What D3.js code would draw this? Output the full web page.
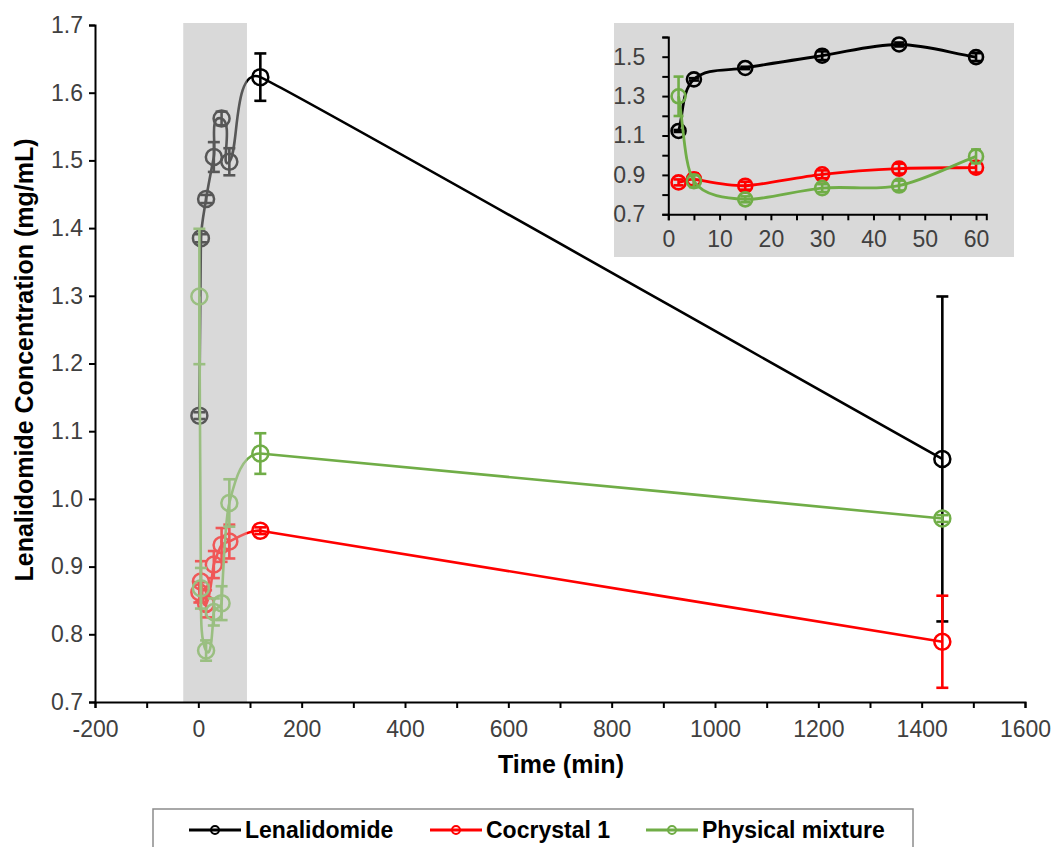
<!DOCTYPE html>
<html><head><meta charset="utf-8">
<script src="https://cdn.jsdelivr.net/npm/d3@7"></script>
<style>body{margin:0;background:#fff}svg{display:block}</style>
</head><body><svg id="c" width="1054" height="847"></svg>
<script>
// ---------- data ----------
const times = [2, 5, 15, 30, 45, 60, 120, 1440];
const seriesNames = ["Lenalidomide", "Cocrystal 1", "Physical mixture"];
const lenaValues = [1.123, 1.385, 1.443, 1.505, 1.562, 1.498, 1.623, 1.059];
const lenaErrors = [0.005, 0.006, 0.006, 0.022, 0.01, 0.02, 0.035, 0.24];
const cocrystalValues = [0.862, 0.878, 0.845, 0.903, 0.932, 0.937, 0.953, 0.789];
const cocrystalErrors = [0.015, 0.03, 0.02, 0.02, 0.025, 0.025, 0.005, 0.068];
const mixtureValues = [1.299, 0.868, 0.776, 0.833, 0.846, 0.994, 1.067, 0.971];
const mixtureErrors = [0.1, 0.03, 0.015, 0.02, 0.025, 0.035, 0.03, 0.005];
const mainXTicks = [-200, 0, 200, 400, 600, 800, 1000, 1200, 1400, 1600];
const mainXMinorTicks = [-100, 100, 300, 500, 700, 900, 1100, 1300, 1500];
const mainYTicks = [0.7, 0.8, 0.9, 1.0, 1.1, 1.2, 1.3, 1.4, 1.5, 1.6, 1.7];
const insetXTicks = [0, 10, 20, 30, 40, 50, 60];
const insetXMinorTicks = [5, 15, 25, 35, 45, 55];
const insetYTicks = [0.7, 0.9, 1.1, 1.3, 1.5];
const insetYMinorTicks = [0.8, 1.0, 1.2, 1.4, 1.6];
const shadeRange = [-29, 94];
const insetMaxTime = 60;

const colors = ["#000000", "#ff0000", "#70ad47"];
const series = [
  {name: seriesNames[0], vals: lenaValues, errs: lenaErrors, color: colors[0]},
  {name: seriesNames[1], vals: cocrystalValues, errs: cocrystalErrors, color: colors[1]},
  {name: seriesNames[2], vals: mixtureValues, errs: mixtureErrors, color: colors[2]}
].map(s => ({...s, pts: times.map((t, i) => ({t, v: s.vals[i], e: s.errs[i]}))}));

const svg = d3.select("#c");
const FONT = "'Liberation Sans', Arial, sans-serif";

// Excel-like smoothed line: Catmull-Rom tangent direction, handle limited by shorter neighbour segment
function smoothPath(P) {
  const n = P.length;
  const dist = (a, b) => Math.hypot(b[0] - a[0], b[1] - a[1]);
  const dir = P.map((p, i) => {
    const a = P[Math.max(0, i - 1)], b = P[Math.min(n - 1, i + 1)];
    const L = dist(a, b) || 1;
    return [(b[0] - a[0]) / L, (b[1] - a[1]) / L];
  });
  const path = d3.path();
  path.moveTo(P[0][0], P[0][1]);
  for (let i = 0; i < n - 1; i++) {
    const p0 = P[i], p1 = P[i + 1];
    const d = dist(p0, p1);
    const dPrev = i > 0 ? dist(P[i - 1], p0) : d;
    const dNext = i + 2 < n ? dist(p1, P[i + 2]) : d;
    const h0 = Math.min(d, dPrev) / 3, h1 = Math.min(d, dNext) / 3;
    path.bezierCurveTo(p0[0] + dir[i][0] * h0, p0[1] + dir[i][1] * h0,
      p1[0] - dir[i + 1][0] * h1, p1[1] - dir[i + 1][1] * h1, p1[0], p1[1]);
  }
  return path.toString();
}

// ---------- main chart ----------
const x = d3.scaleLinear().domain([-200, 1600]).range([95, 1025]);
const y = d3.scaleLinear().domain([0.7, 1.7]).range([702, 25]);

svg.append("rect").attr("x", x(shadeRange[0])).attr("y", 23)
  .attr("width", x(shadeRange[1]) - x(shadeRange[0])).attr("height", y(0.7) - 23)
  .attr("fill", "#d9d9d9");

function drawSeries(g, xs, ys, pts, color, opt) {
  g.append("path").attr("d", smoothPath(pts.map(d => [xs(d.t), ys(d.v)])))
    .attr("fill", "none").attr("stroke", color).attr("stroke-width", opt.lw);
  const eb = g.append("g").attr("stroke", color).attr("stroke-width", opt.ew);
  pts.forEach(d => {
    if (d.e <= 0) return;
    eb.append("line").attr("x1", xs(d.t)).attr("x2", xs(d.t))
      .attr("y1", ys(d.v - d.e)).attr("y2", ys(d.v + d.e));
    [d.v - d.e, d.v + d.e].forEach(c => eb.append("line")
      .attr("x1", xs(d.t) - opt.cap).attr("x2", xs(d.t) + opt.cap)
      .attr("y1", ys(c)).attr("y2", ys(c)));
  });
  g.selectAll(null).data(pts).enter().append("circle")
    .attr("cx", d => xs(d.t)).attr("cy", d => ys(d.v)).attr("r", opt.r)
    .attr("fill", "none").attr("stroke", color).attr("stroke-width", opt.mw);
}

const mainG = svg.append("g");
series.forEach(s => drawSeries(mainG, x, y, s.pts, s.color, {lw: 2.6, ew: 2.6, cap: 6, r: 8, mw: 2.5}));

// translucent overlay of the shaded region
svg.append("rect").attr("x", x(shadeRange[0])).attr("y", 23)
  .attr("width", x(shadeRange[1]) - x(shadeRange[0])).attr("height", y(0.7) - 23)
  .attr("fill", "#d9d9d9").attr("opacity", 0.4);

const fmtInt = d => String(d);
const fmt1 = d => d.toFixed(1);

svg.append("g").attr("transform", `translate(0,${y(0.7)})`)
  .call(d3.axisBottom(x).tickValues(mainXTicks).tickSize(6).tickPadding(13).tickFormat(fmtInt));
svg.append("g").attr("transform", `translate(0,${y(0.7)})`)
  .call(d3.axisBottom(x).tickValues(mainXMinorTicks).tickSize(6).tickFormat(""))
  .call(g => g.select(".domain").remove());
svg.append("g").attr("transform", `translate(${x(-200)},0)`)
  .call(d3.axisLeft(y).tickValues(mainYTicks).tickSize(6).tickPadding(6).tickFormat(fmt1));

svg.append("text").attr("x", 561).attr("y", 773).attr("text-anchor", "middle")
  .attr("font-family", FONT).attr("font-weight", "bold").attr("font-size", 25)
  .attr("fill", "#000").text("Time (min)");
svg.append("text").attr("transform", "translate(33,360) rotate(-90)").attr("text-anchor", "middle")
  .attr("font-family", FONT).attr("font-weight", "bold").attr("font-size", 25)
  .attr("fill", "#000").text("Lenalidomide Concentration (mg/mL)");

// ---------- inset ----------
svg.append("rect").attr("x", 614).attr("y", 23).attr("width", 400).attr("height", 234).attr("fill", "#d9d9d9");
const xi = d3.scaleLinear().domain([0, 62]).range([668.3, 986.3]);
const yi = d3.scaleLinear().domain([0.7, 1.6]).range([214.3, 37]);
const insetG = svg.append("g");
series.forEach(s => drawSeries(insetG, xi, yi, s.pts.filter(d => d.t <= insetMaxTime), s.color,
  {lw: 2.8, ew: 2.6, cap: 5, r: 7, mw: 2.6}));

svg.append("g").attr("transform", `translate(0,${yi(0.7)})`)
  .call(d3.axisBottom(xi).tickValues(insetXTicks).tickSize(6).tickPadding(10).tickFormat(fmtInt));
svg.append("g").attr("transform", `translate(0,${yi(0.7)})`)
  .call(d3.axisBottom(xi).tickValues(insetXMinorTicks).tickSize(6).tickFormat(""))
  .call(g => g.select(".domain").remove());
svg.append("g").attr("transform", `translate(${xi(0)},0)`)
  .call(d3.axisLeft(yi).tickValues(insetYTicks).tickSize(6).tickPadding(17).tickFormat(fmt1));
svg.append("g").attr("transform", `translate(${xi(0)},0)`)
  .call(d3.axisLeft(yi).tickValues(insetYMinorTicks).tickSize(6).tickFormat(""))
  .call(g => g.select(".domain").remove());

svg.selectAll(".domain").attr("stroke", "#000").attr("stroke-width", 2);
svg.selectAll(".tick line").attr("stroke", "#000").attr("stroke-width", 2);
svg.selectAll(".tick text").attr("font-family", FONT).attr("font-size", 23).attr("fill", "#404040");

// ---------- legend ----------
const lg = svg.append("g");
lg.append("rect").attr("x", 153).attr("y", 809).attr("width", 760).attr("height", 60)
  .attr("fill", "#fff").attr("stroke", "#8c8c8c").attr("stroke-width", 1.5);
const legX = [189, 430, 646];
series.forEach((s, i) => {
  const g = lg.append("g").attr("transform", `translate(${legX[i]},830)`);
  g.append("line").attr("x1", 0).attr("x2", 52).attr("stroke", s.color).attr("stroke-width", 3);
  g.append("circle").attr("cx", 26).attr("r", 4).attr("fill", "none").attr("stroke", s.color).attr("stroke-width", 2);
  g.append("text").attr("x", 56).attr("y", 8).attr("font-family", FONT).attr("font-weight", "bold")
    .attr("font-size", 23).attr("fill", "#000").text(s.name);
});
</script></body></html>
